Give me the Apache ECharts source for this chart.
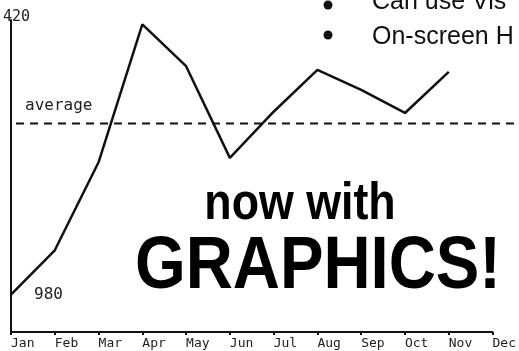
<!DOCTYPE html>
<html>
<head>
<meta charset="utf-8">
<script src="https://cdn.jsdelivr.net/npm/echarts@6/dist/echarts.min.js"></script>
<style>
  html, body { margin: 0; padding: 0; background: #fff; }
  #chart { width: 519px; height: 351px; }
</style>
</head>
<body>
<div id="chart"></div>
<script>
// Monthly totals (Dec not yet recorded)
const months = ['Jan', 'Feb', 'Mar', 'Apr', 'May', 'Jun', 'Jul', 'Aug', 'Sep', 'Oct', 'Nov', 'Dec'];
const totals = [980, 1051, 1192, 1413, 1346, 1199, 1273, 1340, 1308, 1271, 1337, null];
const averageValue = 1254;
const yMin = 920;
const yMax = 1420;
const topTickLabel = '420';
const averageLabel = 'average';
const bullets = ['Can use Vis', 'On-screen H'];
const headline = ['now with', 'GRAPHICS!'];

const mono = 'DejaVu Sans Mono';
const sans = 'Liberation Sans';
const ink = '#111';

const chart = echarts.init(document.getElementById('chart'));

chart.setOption({
  animation: false,
  backgroundColor: '#fff',
  grid: [
    { left: 11, right: 12, top: 20, bottom: 19 },
    { left: 16, right: 0, top: 20, bottom: 19 }
  ],
  xAxis: [
    {
      type: 'category', gridIndex: 0, data: months, boundaryGap: false,
      axisLine: { lineStyle: { color: ink, width: 2 } },
      axisTick: { show: true, length: 3, lineStyle: { color: ink, width: 2 } },
      axisLabel: {
        align: 'left', verticalAlign: 'top', margin: 5,
        fontFamily: mono, fontSize: 13, color: '#222'
      },
      splitLine: { show: false }
    },
    { type: 'value', gridIndex: 1, min: 0, max: 1, show: false }
  ],
  yAxis: [
    {
      type: 'value', gridIndex: 0, min: yMin, max: yMax,
      axisLine: { show: true, lineStyle: { color: ink, width: 2 } },
      axisTick: { show: false }, axisLabel: { show: false },
      splitLine: { show: false }
    },
    { type: 'value', gridIndex: 1, min: yMin, max: yMax, show: false }
  ],
  series: [
    {
      // dashed average level, running past the last month to the page edge
      type: 'line', xAxisIndex: 1, yAxisIndex: 1,
      data: [[0, averageValue], [1, averageValue]],
      symbol: 'none', silent: true,
      lineStyle: { color: ink, width: 2, type: [8, 6] }
    },
    {
      type: 'line', xAxisIndex: 0, yAxisIndex: 0,
      data: totals.map((v, i) => i === 0
        ? { value: v, label: { show: true, position: 'right', distance: 23,
            fontFamily: mono, fontSize: 16, color: '#222' } }
        : v),
      symbol: 'circle', symbolSize: 0, showSymbol: true, connectNulls: false,
      itemStyle: { color: ink },
      lineStyle: { color: ink, width: 2.5 },
      label: { show: false }
    }
  ],
  graphic: [
    { type: 'text', x: 3, y: 10,
      style: { text: topTickLabel, fontFamily: mono, fontSize: 15, fill: '#222' } },
    { type: 'text', x: 25, y: 98,
      style: { text: averageLabel, fontFamily: mono, fontSize: 16, fill: '#222' } },
    { type: 'circle', shape: { cx: 328, cy: 5, r: 4.5 }, style: { fill: '#111' } },
    { type: 'circle', shape: { cx: 328, cy: 35, r: 4.5 }, style: { fill: '#111' } },
    { type: 'text', x: 372, y: -10,
      style: { text: bullets[0], fontFamily: sans, fontSize: 25, fill: '#111' } },
    { type: 'text', x: 372, y: 25,
      style: { text: bullets[1], fontFamily: sans, fontSize: 25, fill: '#111' } },
    { type: 'text', x: 300, y: 179, scaleX: 0.86,
      style: { text: headline[0], fontFamily: sans, fontWeight: 'bold', fontSize: 52,
        fill: '#000', align: 'center' } },
    { type: 'text', x: 318, y: 230, scaleX: 0.87,
      style: { text: headline[1], fontFamily: sans, fontWeight: 'bold', fontSize: 75,
        fill: '#000', align: 'center' } }
  ]
});
</script>
</body>
</html>
